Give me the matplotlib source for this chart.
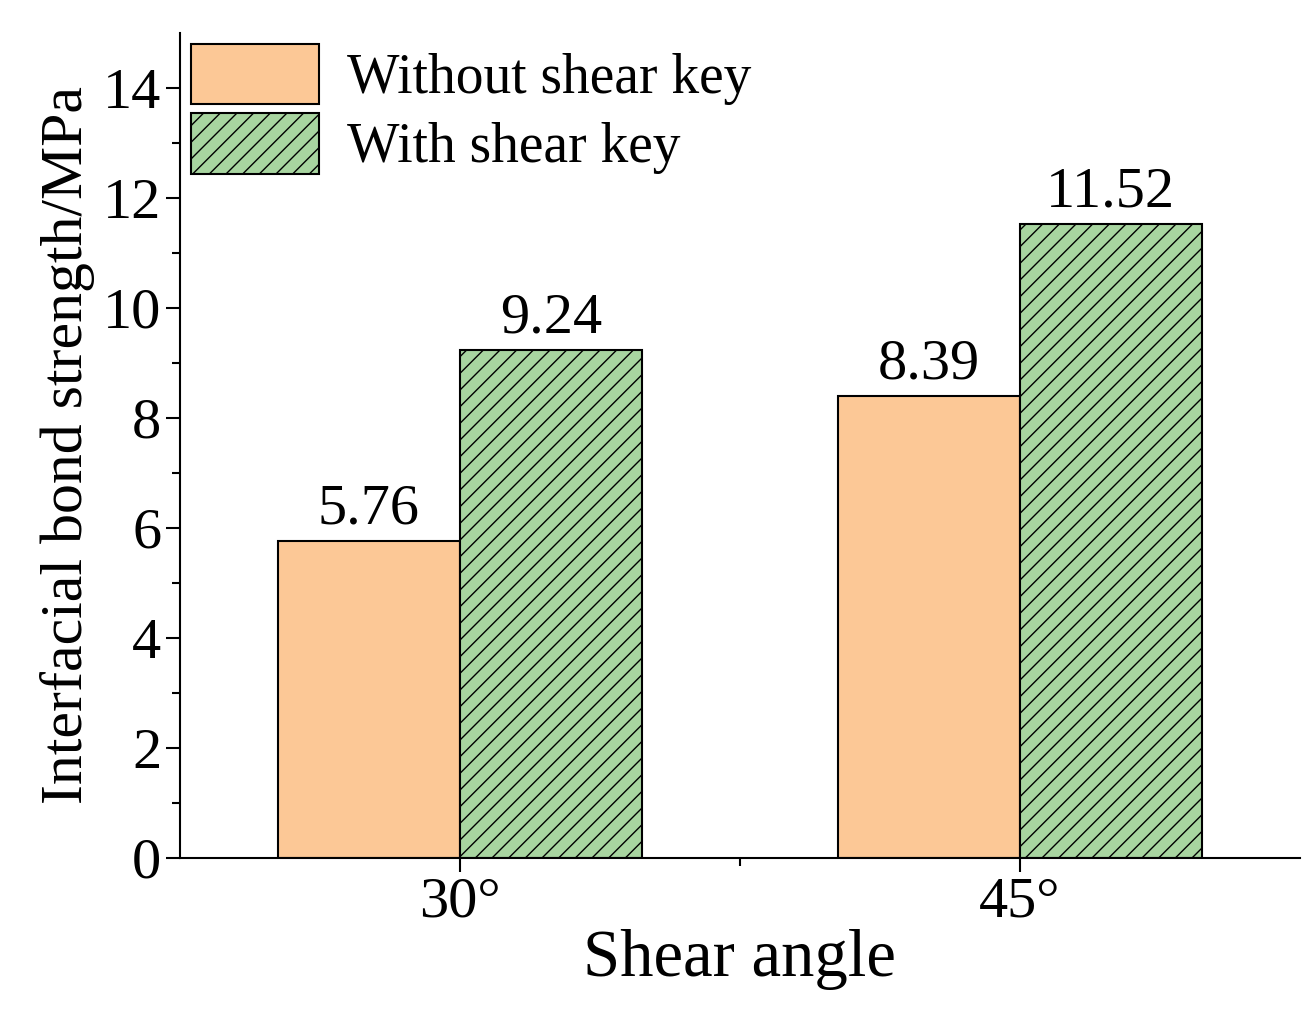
import matplotlib.pyplot as plt
import numpy as np

plt.rcParams['font.family'] = ['Liberation Serif', 'DejaVu Serif']
plt.rcParams['hatch.linewidth'] = 1.0

angles = ['30°', '45°']
without_key = [5.76, 8.39]
with_key = [9.24, 11.52]

fig = plt.figure(figsize=(13.14, 10.25), dpi=100)
ax = fig.add_axes([0.137, 0.163, 0.852, 0.805])

x = np.arange(len(angles))
w = 0.325
b1 = ax.bar(x - w / 2, without_key, w, color='#fcc896', edgecolor='black', linewidth=1.5,
            label='Without shear key')
b2 = ax.bar(x + w / 2, with_key, w, color='#a8d5a0', edgecolor='black', linewidth=1.5,
            hatch='//', label='With shear key')

for bars, vals in [(b1, without_key), (b2, with_key)]:
    for r, v in zip(bars, vals):
        ax.text(r.get_x() + r.get_width() / 2, v + 0.1, f'{v:.2f}',
                ha='center', va='bottom', fontsize=42)

ax.set_xlim(-0.5, 1.5)
ax.set_ylim(0, 15)
ax.set_xticks(x)
ax.set_xticklabels(angles)
ax.set_xticks([0.5], minor=True)
ax.set_yticks(range(0, 15, 2))
ax.set_yticks(range(1, 15, 2), minor=True)
ax.tick_params(axis='both', which='major', labelsize=42, length=10, width=1.5, direction='out')
ax.tick_params(axis='both', which='minor', length=6, width=1.5, direction='out')
for s in ['top', 'right']:
    ax.spines[s].set_visible(False)
for s in ['left', 'bottom']:
    ax.spines[s].set_linewidth(1.5)

ax.set_xlabel('Shear angle', fontsize=48, labelpad=0)
ax.set_ylabel('Interfacial bond strength/MPa', fontsize=43, labelpad=6)

ax.legend(loc='upper left', fontsize=40, frameon=False, handlelength=2.3, handleheight=1.3,
          borderaxespad=0.1, borderpad=0.1, labelspacing=0.15, handletextpad=0.5)

fig.savefig('out.png', dpi=100)
